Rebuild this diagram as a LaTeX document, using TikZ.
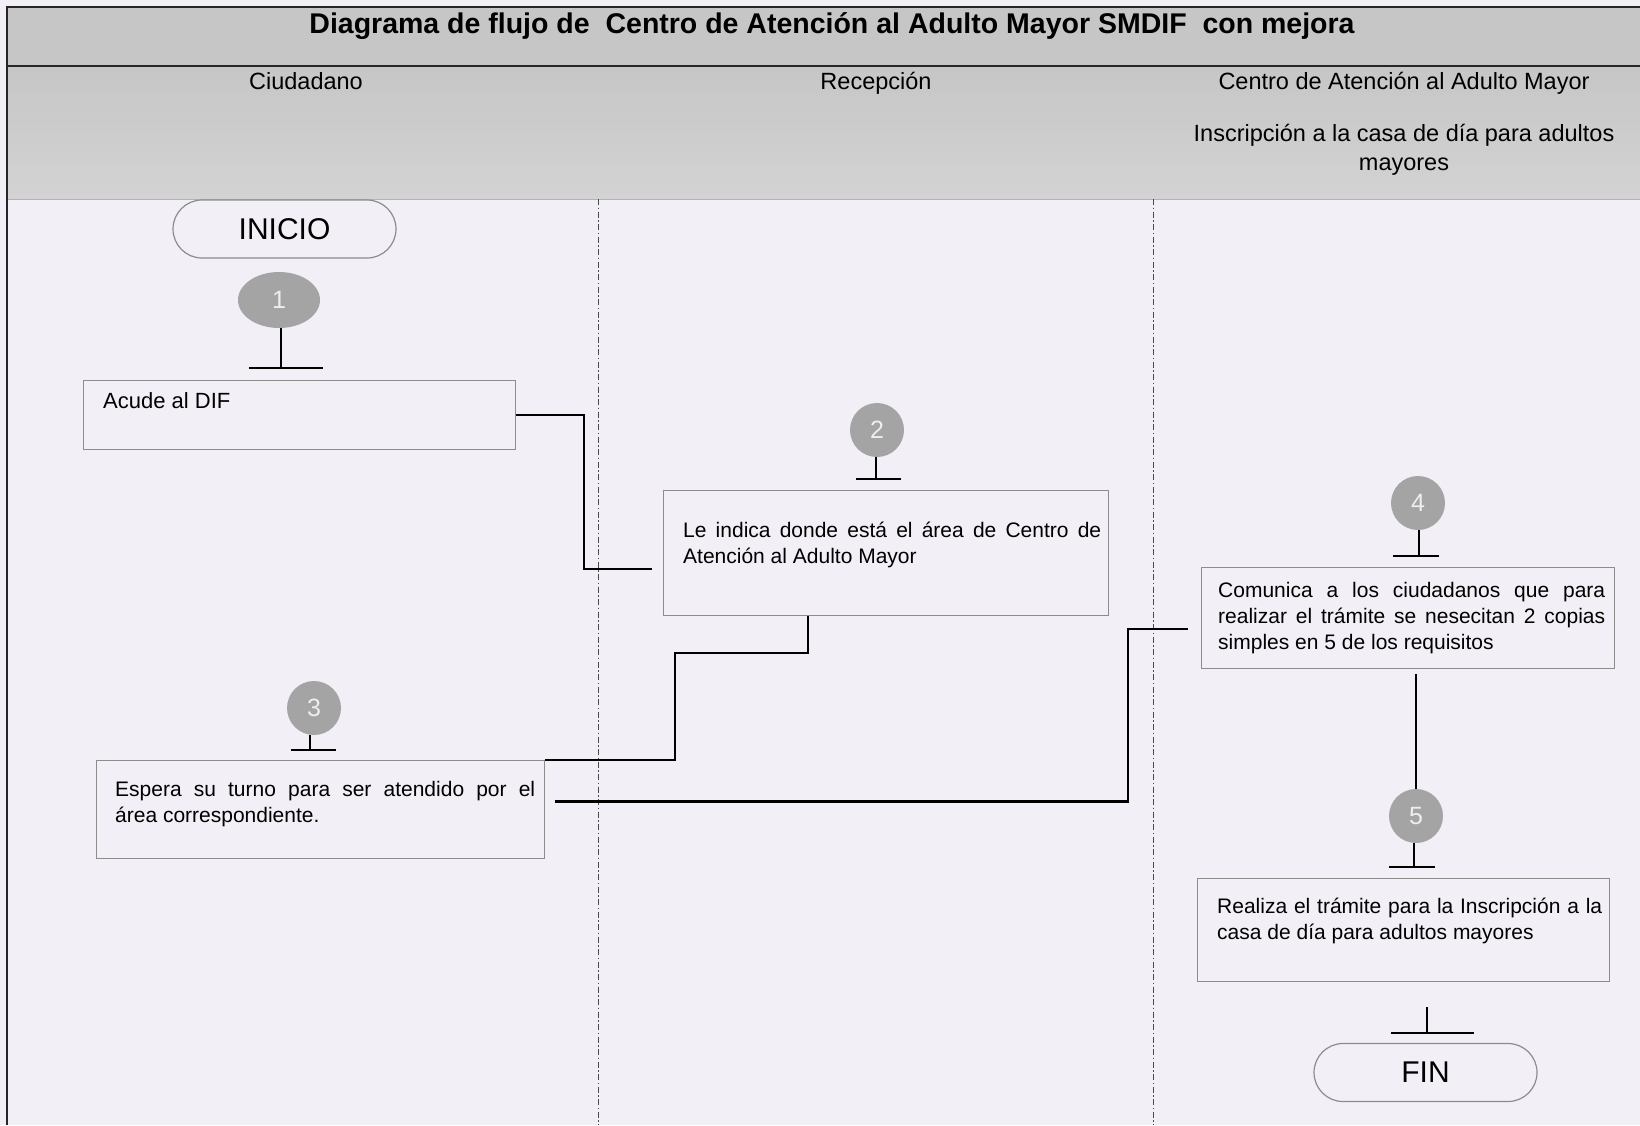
\documentclass[tikz,border=0pt]{standalone}
\usepackage{fontspec}
\setmainfont{Liberation Sans}
\usetikzlibrary{shapes.geometric}
\hyphenpenalty=10000
\exhyphenpenalty=10000
\definecolor{bodybg}{HTML}{F2F0F6}
\definecolor{titlebg}{HTML}{C6C6C6}
\definecolor{headtop}{HTML}{C6C6C6}
\definecolor{headbot}{HTML}{D3D3D3}
\definecolor{boxline}{HTML}{8C8C8C}
\definecolor{circfill}{HTML}{A4A4A4}
\definecolor{numcol}{HTML}{EEEEEE}
\definecolor{laneline}{HTML}{4A4A4A}
\tikzset{
  frameline/.style={line width=1.6pt, draw=black!85},
  laneline/.style={line width=1pt, draw=laneline, dash pattern=on 6pt off 2.5pt on 1.5pt off 2.5pt},
  term/.style={rectangle, rounded corners=29pt, draw=boxline, line width=1.2pt, minimum width=223pt, minimum height=58pt, inner sep=0pt, font=\fontsize{30}{30}\selectfont},
  numc/.style={circle, fill=circfill, draw=none, minimum size=54pt, inner sep=0pt, text=numcol, font=\fontsize{25}{25}\selectfont},
  box/.style={rectangle, draw=boxline, line width=1.2pt, inner sep=0pt, anchor=north west},
  txt/.style={inner sep=0pt, anchor=base west, align=justify, font=\fontsize{21}{26}\selectfont},
  head/.style={inner sep=0pt, anchor=base, font=\fontsize{23.5}{29}\selectfont},
  conn/.style={line width=2.7pt, draw=black},
  stem/.style={line width=2pt, draw=black}
}
\begin{document}
\begin{tikzpicture}[x=1pt, y=-1pt]
\fill[bodybg] (0,0) rectangle (1640,1125);
\useasboundingbox (0,0) rectangle (1640,1125);
% bands
\fill[titlebg] (7,7) rectangle (1640,66);
\shade[top color=headtop, bottom color=headbot] (7,66) rectangle (1640,199);
\draw[line width=0.8pt, draw=black!30] (7,199) -- (1640,199);
\draw[frameline] (1640,7) -- (7,7) -- (7,1125);
\draw[frameline] (7,66) -- (1640,66);
% lanes
\draw[laneline] (598,199) -- (598,1125);
\draw[laneline] (1153,199) -- (1153,1125);
% title and headers
\node[inner sep=0pt, anchor=base, font=\fontsize{28.5}{30}\selectfont\bfseries] (title) at (832,33) {Diagrama de flujo de\ \ Centro de Atención al Adulto Mayor SMDIF\ \ con mejora};
\node[head] (h1) at (306,89) {Ciudadano};
\node[head] (h2) at (876,89) {Recepción};
\node[head] (h3) at (1404,89) {Centro de Atención al Adulto Mayor};
\node[head] (h4) at (1404,141) {Inscripción a la casa de día para adultos};
\node[head] (h5) at (1404,170) {mayores};
% start
\node[term] (ini) at (284.5,229) {INICIO};
% step circles
\node[numc, shape=ellipse, minimum width=82pt, minimum height=56pt] (n1) at (279,300) {1};
\node[numc] (n2) at (877,430) {2};
\node[numc] (n3) at (314,708) {3};
\node[numc] (n4) at (1418,503) {4};
\node[numc] (n5) at (1416,816) {5};
% boxes
\node[box, minimum width=432pt, minimum height=69pt] (b1) at (83,380) {};
\node[txt, font=\fontsize{22}{26}\selectfont] (x1) at (103,408) {Acude al DIF};
\node[box, minimum width=445pt, minimum height=125pt] (b2) at (663,490) {};
\node[txt, text width=418pt] (x2) at (683,537) {Le indica donde está el área de Centro de\linebreak Atención al Adulto Mayor};
\node[box, minimum width=448pt, minimum height=98pt] (b3) at (96,760) {};
\node[txt, text width=420pt] (x3) at (115,796) {Espera su turno para ser atendido por el\linebreak área correspondiente.};
\node[box, minimum width=413pt, minimum height=101pt] (b4) at (1201,567) {};
\node[txt, text width=387pt] (x4) at (1218,597) {Comunica a los ciudadanos que para\linebreak realizar el trámite se nesecitan 2 copias\linebreak simples en 5 de los requisitos};
\node[box, minimum width=412pt, minimum height=103pt] (b5) at (1197,878) {};
\node[txt, text width=385pt] (x5) at (1217,913) {Realiza el trámite para la Inscripción a la\linebreak casa de día para adultos mayores};
% end
\node[term] (fin) at (1425.5,1072.5) {FIN};
% stems with T bars
\coordinate (t1) at (281,368);
\draw[stem] (t1 |- n1.south) -- (t1);
\draw[stem] ([xshift=-32pt]t1) -- ([xshift=42pt]t1);
\coordinate (t2) at (876,479);
\draw[stem] (t2 |- n2.south) -- (t2);
\draw[stem] ([xshift=-20pt]t2) -- ([xshift=25pt]t2);
\coordinate (t3) at (310,750);
\draw[stem] (t3 |- n3.south) -- (t3);
\draw[stem] ([xshift=-19pt]t3) -- ([xshift=26pt]t3);
\coordinate (t4) at (1419,556);
\draw[stem] (t4 |- n4.south) -- (t4);
\draw[stem] ([xshift=-26pt]t4) -- ([xshift=20pt]t4);
\coordinate (t5) at (1414,867);
\draw[stem] (t5 |- n5.south) -- (t5);
\draw[stem] ([xshift=-25pt]t5) -- ([xshift=21pt]t5);
\coordinate (tf0) at (1427,1007);
\coordinate (tf) at (1427,1033);
\draw[stem] (tf0) -- (tf);
\draw[stem] ([xshift=-36pt]tf) -- ([xshift=47pt]tf);
% connectors
\coordinate (c1) at (584,569);
\draw[conn, shorten >=11pt] (b1.east) -| (c1) -- (c1 -| b2.west);
\coordinate (c2a) at (808,653);
\coordinate (c2b) at (675,760);
\draw[conn] (c2a |- b2.south) -- (c2a) -| (c2b) -- (b3.north east);
\coordinate (c3) at (1128,629);
\draw[conn, shorten <=10pt, shorten >=13pt] ([yshift=8pt]b3.east) -| (c3) -- (c3 -| b4.west);
\draw[conn, shorten <=5pt] (n5.north |- b4.south) -- (n5.north);
\end{tikzpicture}
\end{document}
